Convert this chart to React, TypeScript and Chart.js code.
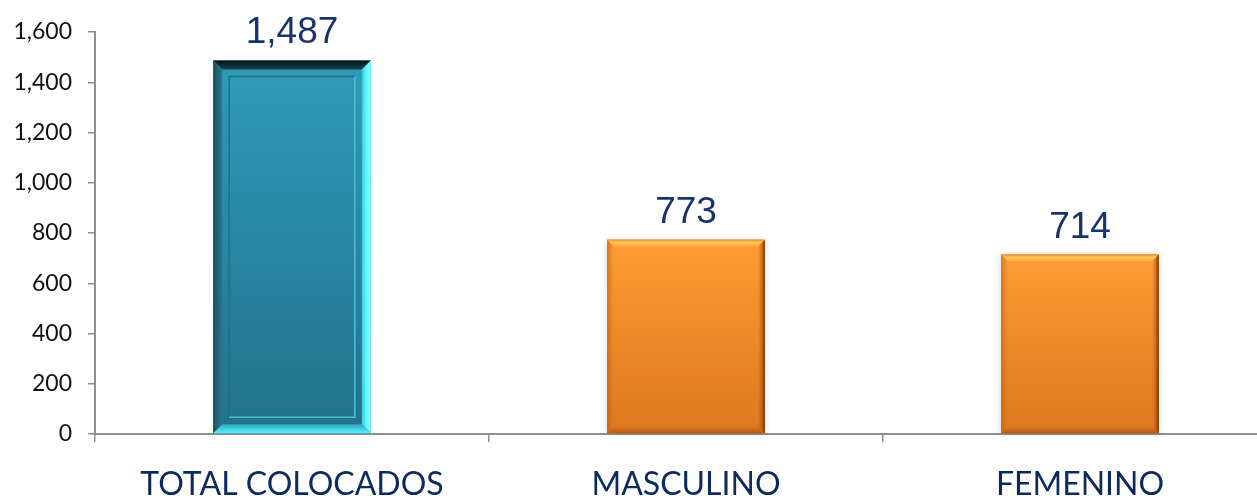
import React, { useEffect, useRef } from "react";
import { Chart, registerables } from "chart.js";

Chart.register(...registerables);

const categories = ["TOTAL COLOCADOS", "MASCULINO", "FEMENINO"];
const values = [1487, 773, 714];
const yTicks = [0, 200, 400, 600, 800, 1000, 1200, 1400, 1600];
const barKinds = ["teal", "orange", "orange"];

const fmt = (v: number) => v.toLocaleString("en-US");

const bevelPlugin = {
  id: "bevelBars",
  afterDatasetsDraw(chart: any) {
    const ctx = chart.ctx as CanvasRenderingContext2D;
    const meta = chart.getDatasetMeta(0);
    meta.data.forEach((el: any, i: number) => {
      const p = el.getProps(["x", "y", "base", "width"], true);
      const l = p.x - p.width / 2;
      const r = p.x + p.width / 2;
      const t = p.y;
      const b = p.base;
      ctx.save();
      if (barKinds[i] === "teal") {
        const bw = 9;
        const g = ctx.createLinearGradient(0, t, 0, b);
        g.addColorStop(0, "#2F9BB9");
        g.addColorStop(1, "#22718A");
        ctx.fillStyle = g;
        ctx.fillRect(l, t, r - l, b - t);
        const gt = ctx.createLinearGradient(0, t, 0, t + bw);
        gt.addColorStop(0, "#061214");
        gt.addColorStop(1, "#14414C");
        ctx.fillStyle = gt;
        ctx.beginPath();
        ctx.moveTo(l, t); ctx.lineTo(r, t); ctx.lineTo(r - bw, t + bw); ctx.lineTo(l + bw, t + bw); ctx.closePath(); ctx.fill();
        const gl = ctx.createLinearGradient(l, 0, l + bw, 0);
        gl.addColorStop(0, "#1A4F5D");
        gl.addColorStop(1, "#267A90");
        ctx.fillStyle = gl;
        ctx.beginPath();
        ctx.moveTo(l, t); ctx.lineTo(l + bw, t + bw); ctx.lineTo(l + bw, b - bw); ctx.lineTo(l, b); ctx.closePath(); ctx.fill();
        const gr = ctx.createLinearGradient(r - bw, 0, r, 0);
        gr.addColorStop(0, "#3FC6D9");
        gr.addColorStop(0.5, "#5CFAFF");
        gr.addColorStop(1, "#7FFFFF");
        ctx.fillStyle = gr;
        ctx.beginPath();
        ctx.moveTo(r, t); ctx.lineTo(r, b); ctx.lineTo(r - bw, b - bw); ctx.lineTo(r - bw, t + bw); ctx.closePath(); ctx.fill();
        const gb = ctx.createLinearGradient(0, b - bw, 0, b);
        gb.addColorStop(0, "#2FA5BC");
        gb.addColorStop(1, "#58F2FF");
        ctx.fillStyle = gb;
        ctx.beginPath();
        ctx.moveTo(l, b); ctx.lineTo(l + bw, b - bw); ctx.lineTo(r - bw, b - bw); ctx.lineTo(r, b); ctx.closePath(); ctx.fill();
        const fi = 16;
        ctx.lineWidth = 1.5;
        ctx.strokeStyle = "#236F84";
        ctx.beginPath();
        ctx.moveTo(l + fi, b - fi); ctx.lineTo(l + fi, t + fi); ctx.lineTo(r - fi, t + fi); ctx.stroke();
        ctx.strokeStyle = "#47C0D6";
        ctx.beginPath();
        ctx.moveTo(r - fi, t + fi); ctx.lineTo(r - fi, b - fi); ctx.lineTo(l + fi, b - fi); ctx.stroke();
      } else {
        const bw = 7;
        ctx.shadowColor = "rgba(0,0,0,0.18)";
        ctx.shadowBlur = 6;
        const g = ctx.createLinearGradient(0, t, 0, b);
        g.addColorStop(0, "#FF9D33");
        g.addColorStop(1, "#DE771F");
        ctx.fillStyle = g;
        ctx.fillRect(l, t, r - l, b - t);
        ctx.shadowColor = "transparent";
        ctx.shadowBlur = 0;
        const gt = ctx.createLinearGradient(0, t, 0, t + bw);
        gt.addColorStop(0, "#E8922E");
        gt.addColorStop(0.35, "#FFC75C");
        gt.addColorStop(1, "#FFA43A");
        ctx.fillStyle = gt;
        ctx.beginPath();
        ctx.moveTo(l, t); ctx.lineTo(r, t); ctx.lineTo(r - bw, t + bw); ctx.lineTo(l + bw, t + bw); ctx.closePath(); ctx.fill();
        const gr = ctx.createLinearGradient(r - bw, 0, r, 0);
        gr.addColorStop(0, "rgba(190,100,20,0)");
        gr.addColorStop(0.6, "rgba(160,80,15,0.6)");
        gr.addColorStop(1, "rgba(90,45,10,0.95)");
        ctx.fillStyle = gr;
        ctx.beginPath();
        ctx.moveTo(r, t); ctx.lineTo(r, b); ctx.lineTo(r - bw, b - bw); ctx.lineTo(r - bw, t + bw); ctx.closePath(); ctx.fill();
        const gl = ctx.createLinearGradient(l, 0, l + bw, 0);
        gl.addColorStop(0, "rgba(170,90,20,0.55)");
        gl.addColorStop(1, "rgba(200,110,30,0)");
        ctx.fillStyle = gl;
        ctx.beginPath();
        ctx.moveTo(l, t); ctx.lineTo(l + bw, t + bw); ctx.lineTo(l + bw, b - bw); ctx.lineTo(l, b); ctx.closePath(); ctx.fill();
        const gb = ctx.createLinearGradient(0, b - bw, 0, b);
        gb.addColorStop(0, "rgba(180,90,20,0)");
        gb.addColorStop(1, "rgba(150,75,15,0.7)");
        ctx.fillStyle = gb;
        ctx.beginPath();
        ctx.moveTo(l, b); ctx.lineTo(l + bw, b - bw); ctx.lineTo(r - bw, b - bw); ctx.lineTo(r, b); ctx.closePath(); ctx.fill();
      }
      ctx.restore();
    });
  },
};

const labelPlugin = {
  id: "valueLabels",
  afterDatasetsDraw(chart: any) {
    const ctx = chart.ctx as CanvasRenderingContext2D;
    const meta = chart.getDatasetMeta(0);
    ctx.save();
    ctx.font = "37px 'Liberation Sans', Arial, sans-serif";
    ctx.fillStyle = "#17336D";
    ctx.textAlign = "center";
    ctx.textBaseline = "alphabetic";
    meta.data.forEach((el: any, i: number) => {
      const p = el.getProps(["x", "y"], true);
      ctx.fillText(fmt(values[i]), p.x, p.y - 17);
    });
    ctx.restore();
  },
};

export default function App() {
  const ref = useRef<HTMLCanvasElement>(null);
  useEffect(() => {
    if (!ref.current) return;
    const chart = new Chart(ref.current, {
      type: "bar",
      data: {
        labels: categories,
        datasets: [
          {
            data: values,
            backgroundColor: barKinds.map((k) => (k === "teal" ? "#2A8CA8" : "#F08A2A")),
            borderWidth: 0,
            barPercentage: 0.4,
            categoryPercentage: 1,
          },
        ],
      },
      options: {
        responsive: false,
        animation: false,
        devicePixelRatio: 1,
        layout: { padding: { top: 32, left: 0, right: 0, bottom: 0 } },
        plugins: { legend: { display: false }, tooltip: { enabled: false } },
        scales: {
          x: {
            grid: { display: true, drawOnChartArea: false, offset: true, tickLength: 8, color: "#8E8E8E", lineWidth: 1.5 },
            border: { display: true, color: "#8E8E8E", width: 2 },
            ticks: {
              color: "#0D2A5F",
              font: { family: "Lato, 'Open Sans', sans-serif", size: 32 },
              padding: 23,
              maxRotation: 0,
            },
            afterFit: (s: any) => { s.height = 64; },
          },
          y: {
            min: 0,
            max: 1600,
            afterBuildTicks: (s: any) => { s.ticks = yTicks.map((v) => ({ value: v })); },
            grid: { display: true, drawOnChartArea: false, tickLength: 7, color: "#8E8E8E", lineWidth: 1.5 },
            border: { display: true, color: "#8E8E8E", width: 2 },
            ticks: {
              color: "#111",
              font: { family: "Lato, 'Open Sans', sans-serif", size: 23 },
              padding: 16,
              callback: (v: any) => fmt(Number(v)),
            },
            afterFit: (s: any) => { s.width = 95; },
          },
        },
      },
      plugins: [bevelPlugin, labelPlugin],
    });
    return () => chart.destroy();
  }, []);
  return (
    <div style={{ position: "absolute", left: 0, top: 0, width: 1257, height: 498, overflow: "hidden", background: "#fff" }}>
      <canvas ref={ref} width={1277} height={498} style={{ display: "block" }} />
    </div>
  );
}
